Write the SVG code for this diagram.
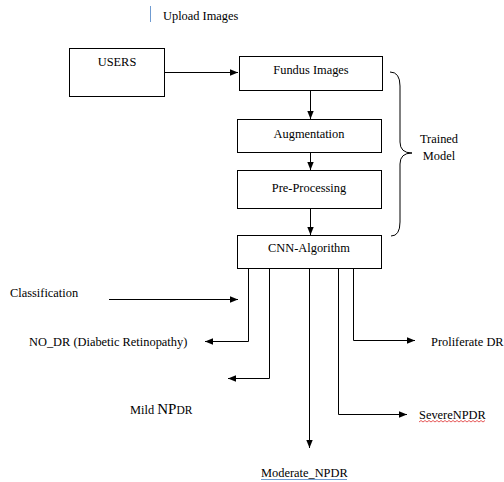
<svg xmlns="http://www.w3.org/2000/svg" width="504" height="482" viewBox="0 0 504 482">
<style>
.t{font-family:"Liberation Serif","Times New Roman",serif;font-size:12.4px;fill:#000}
.box{fill:#fff;stroke:#000;stroke-width:1}
.c{fill:none;stroke:#000;stroke-width:1}
</style>
<defs>
<marker id="ah" viewBox="0 0 8 8" refX="8" refY="4" markerWidth="8" markerHeight="8" markerUnits="userSpaceOnUse" orient="auto">
<path d="M0,0.8 L8,4 L0,7.2 z" fill="#000"/>
</marker>
</defs>
<rect width="504" height="482" fill="#fff"/>
<g id="upload">
<line x1="150.5" y1="6" x2="150.5" y2="22" stroke="#6f9bd1" stroke-width="1"/>
<text class="t" x="163" y="20">Upload Images</text>
</g>
<g id="users"><rect class="box" x="69.5" y="48.5" width="95" height="48"/><text class="t" x="117" y="66" text-anchor="middle">USERS</text></g>
<g id="fundus"><rect class="box" x="239.5" y="56.5" width="143" height="34"/><text class="t" x="311" y="74" text-anchor="middle">Fundus Images</text></g>
<g id="augmentation"><rect class="box" x="237.5" y="119.5" width="144" height="33"/><text class="t" x="309" y="138" text-anchor="middle">Augmentation</text></g>
<g id="preprocessing"><rect class="box" x="237.5" y="170.5" width="144" height="38"/><text class="t" x="309" y="192" text-anchor="middle">Pre-Processing</text></g>
<g id="cnn"><rect class="box" x="237.5" y="235.5" width="144" height="33"/><text class="t" x="309" y="252" text-anchor="middle">CNN-Algorithm</text></g>
<g id="trained">
<path class="c" d="M390,72 Q400,72 400,86 L400,142 Q400,153 412,153 Q400,153 400,164 L400,222 Q400,236 391,236" stroke="#333"/>
<text class="t" x="439" y="143" text-anchor="middle">Trained</text>
<text class="t" x="439" y="160" text-anchor="middle">Model</text>
</g>
<g id="classification"><text class="t" x="10" y="297">Classification</text></g>
<g id="nodr"><text class="t" x="29" y="346">NO_DR (Diabetic Retinopathy)</text></g>
<g id="mild"><text class="t" x="130" y="414">Mild <tspan font-size="15">NP</tspan><tspan font-size="11.5">DR</tspan></text></g>
<g id="moderate"><text class="t" x="261" y="477">Moderate_NPDR</text><line x1="261" y1="479.5" x2="347" y2="479.5" stroke="#6f9bd1"/></g>
<g id="severe"><text class="t" x="419" y="419">SevereNPDR</text><path d="M419,422 l2,-1.5 l2,1.5 l2,-1.5 l2,1.5 l2,-1.5 l2,1.5 l2,-1.5 l2,1.5 l2,-1.5 l2,1.5 l2,-1.5 l2,1.5 l2,-1.5 l2,1.5 l2,-1.5 l2,1.5 l2,-1.5 l2,1.5 l2,-1.5 l2,1.5 l2,-1.5 l2,1.5 l2,-1.5 l2,1.5 l2,-1.5 l2,1.5 l2,-1.5 l2,1.5 l2,-1.5 l2,1.5 l2,-1.5 l2,1.5 l2,-1.5" fill="none" stroke="#e03030" stroke-width="0.8"/></g>
<g id="proliferate"><text class="t" x="431" y="346">Proliferate DR</text></g>
<g id="connectors">
<line class="c" x1="164" y1="72.5" x2="238" y2="72.5" marker-end="url(#ah)"/>
<line class="c" x1="310.5" y1="90" x2="310.5" y2="119" marker-end="url(#ah)"/>
<line class="c" x1="310.5" y1="152" x2="310.5" y2="170" marker-end="url(#ah)"/>
<line class="c" x1="310.5" y1="208" x2="310.5" y2="235" marker-end="url(#ah)"/>
<line class="c" x1="109" y1="299.5" x2="238" y2="299.5" marker-end="url(#ah)"/>
<polyline class="c" points="248.5,268 248.5,341.5 205,341.5" marker-end="url(#ah)"/>
<polyline class="c" points="269.5,268 269.5,378.5 228,378.5" marker-end="url(#ah)"/>
<line class="c" x1="309.5" y1="268" x2="309.5" y2="448" marker-end="url(#ah)"/>
<polyline class="c" points="338.5,268 338.5,414.5 407,414.5" marker-end="url(#ah)"/>
<polyline class="c" points="353.5,268 353.5,340.5 415,340.5" marker-end="url(#ah)"/>
</g>
</svg>
